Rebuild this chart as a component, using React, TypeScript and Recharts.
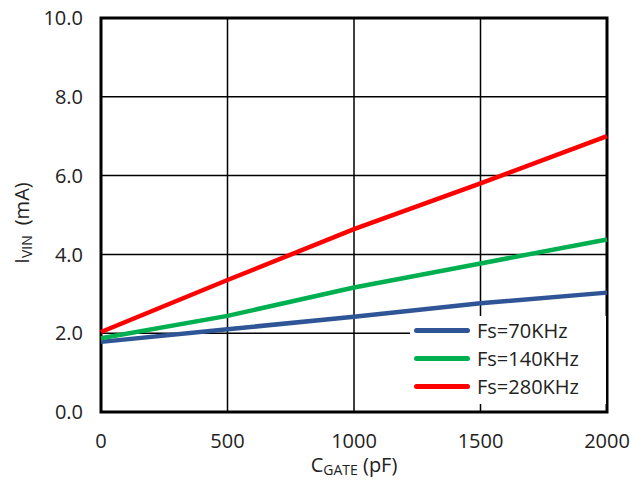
import {
  CartesianGrid,
  Line,
  LineChart,
  ReferenceArea,
  XAxis,
  YAxis,
} from "recharts";

const CGATE = [0, 500, 1000, 1500, 2000];
const FS_70K = [1.78, 2.1, 2.42, 2.76, 3.03];
const FS_140K = [1.87, 2.44, 3.16, 3.77, 4.38];
const FS_280K = [2.03, 3.35, 4.64, 5.8, 7.0];

const X_TICKS = [0, 500, 1000, 1500, 2000];
const Y_TICKS = [0, 2, 4, 6, 8, 10];

const SERIES = [
  { key: "f70", label: "Fs=70KHz", color: "#2F5597", values: FS_70K },
  { key: "f140", label: "Fs=140KHz", color: "#00B050", values: FS_140K },
  { key: "f280", label: "Fs=280KHz", color: "#FF0000", values: FS_280K },
];

const rows = CGATE.map((c, i) => {
  const row: Record<string, number> = { c };
  SERIES.forEach((s) => {
    row[s.key] = s.values[i];
  });
  return row;
});

const FONT = "'Open Sans', 'Noto Sans', sans-serif";

function XLabel(props: any) {
  const { viewBox } = props;
  const cx = viewBox.x + viewBox.width / 2;
  return (
    <text x={cx} y={472} textAnchor="middle" fontFamily={FONT} fontSize={20} fill="#222">
      C
      <tspan fontSize={14} dy={3}>GATE</tspan>
      <tspan dy={-3}> (pF)</tspan>
    </text>
  );
}

function YLabel(props: any) {
  const { viewBox } = props;
  const cy = viewBox.y + viewBox.height / 2;
  return (
    <text
      x={0}
      y={0}
      transform={`translate(29, ${cy + 8}) rotate(-90)`}
      textAnchor="middle"
      fontFamily={FONT}
      fontSize={20}
      fill="#222"
    >
      I
      <tspan fontSize={14} dy={3}>VIN</tspan>
      <tspan dy={-3} dx={10}>(mA)</tspan>
    </text>
  );
}

function LegendBox() {
  return (
    <div
      style={{
        position: "absolute",
        left: 410,
        top: 316,
        width: 192,
        background: "#fff",
        padding: "0 0 4px 4px",
        fontFamily: FONT,
      }}
    >
      {SERIES.map((s) => (
        <div key={s.key} style={{ display: "flex", alignItems: "center", height: 28 }}>
          <div style={{ width: 56, height: 5, borderRadius: 3, background: s.color, marginRight: 7 }} />
          <span style={{ fontSize: 20, color: "#222" }}>{s.label}</span>
        </div>
      ))}
    </div>
  );
}

export default function App() {
  return (
    <div style={{ position: "absolute", left: 0, top: 0, width: 633, height: 486, background: "#fff" }}>
      <LineChart
        width={633}
        height={486}
        data={rows}
        margin={{ top: 18, right: 26, left: 0, bottom: 0 }}
      >
        <CartesianGrid stroke="#000" strokeWidth={1.5} />
        <XAxis
          dataKey="c"
          type="number"
          domain={[0, 2000]}
          ticks={X_TICKS}
          tickLine={false}
          axisLine={false}
          tickMargin={16}
          tick={{ fontSize: 20, fill: "#222", fontFamily: FONT }}
          height={74}
          label={<XLabel />}
        />
        <YAxis
          type="number"
          domain={[0, 10]}
          ticks={Y_TICKS}
          tickLine={false}
          axisLine={false}
          tickMargin={12}
          width={101}
          tickFormatter={(v) => Number(v).toFixed(1)}
          tick={{ fontSize: 20, fill: "#222", fontFamily: FONT }}
          label={<YLabel />}
        />
        {SERIES.map((s) => (
          <Line
            key={s.key}
            type="linear"
            dataKey={s.key}
            name={s.label}
            stroke={s.color}
            strokeWidth={4.5}
            dot={false}
            isAnimationActive={false}
          />
        ))}
        <ReferenceArea
          x1={0}
          x2={2000}
          y1={0}
          y2={10}
          fill="none"
          stroke="#000"
          strokeWidth={3}
          ifOverflow="visible"
        />
      </LineChart>
      <LegendBox />
    </div>
  );
}
